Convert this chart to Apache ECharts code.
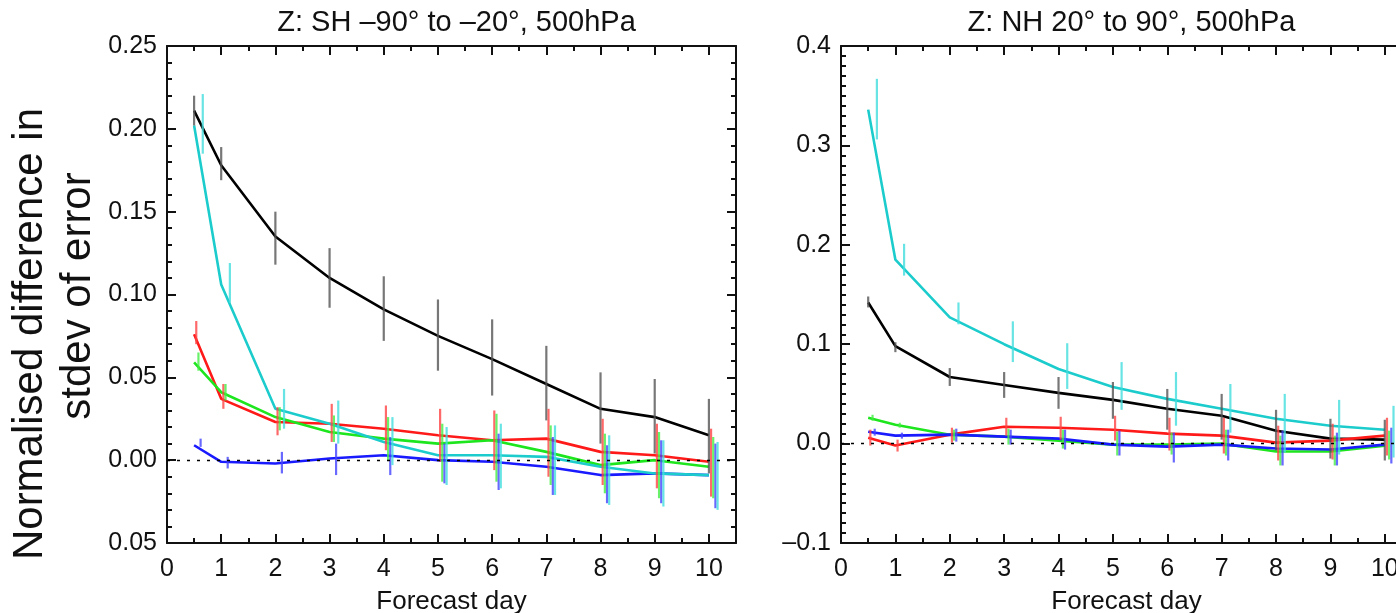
<!DOCTYPE html>
<html><head><meta charset="utf-8">
<script src="https://cdn.jsdelivr.net/npm/echarts@6/dist/echarts.min.js"></script>
<style>html,body{margin:0;padding:0;background:#fff}#c{width:1396px;height:613px}</style>
</head><body><div id="c"></div>
<script>
// ---------- data ----------
const days = [0.5, 1, 2, 3, 4, 5, 6, 7, 8, 9, 10];
const xTickLabels = ['0','1','2','3','4','5','6','7','8','9','10'];
const shYTickLabels = ['0.05','0.00','0.05','0.10','0.15','0.20','0.25'];
const nhYTickLabels = ['\u20130.1','0.0','0.1','0.2','0.3','0.4'];
const titles = ['Z: SH \u201390\u00b0 to \u201320\u00b0, 500hPa', 'Z: NH 20\u00b0 to 90\u00b0, 500hPa'];
const xName = 'Forecast day';
const yNameLines = ['Normalised difference in', 'stdev of error'];

// SH panel
const shBlack   = [0.211,0.178,0.135,0.110,0.091,0.075,0.061,0.046,0.031,0.026,0.015];
const shBlackLo = [0.202,0.169,0.118,0.092,0.072,0.054,0.039,0.024,0.010,0.004,-0.008];
const shBlackHi = [0.220,0.189,0.150,0.128,0.111,0.097,0.085,0.069,0.053,0.049,0.037];
const shCyan    = [0.202,0.106,0.031,0.022,0.011,0.003,0.003,0.002,-0.004,-0.008,-0.009];
const shCyanLo  = [0.185,0.095,0.019,0.010,-0.003,-0.015,-0.017,-0.021,-0.027,-0.028,-0.030];
const shCyanHi  = [0.221,0.119,0.043,0.036,0.026,0.020,0.022,0.021,0.015,0.012,0.011];
const shRed     = [0.076,0.037,0.023,0.022,0.019,0.015,0.012,0.013,0.005,0.003,-0.001];
const shRedLo   = [0.070,0.031,0.015,0.011,0.006,-0.001,-0.006,-0.010,-0.015,-0.017,-0.022];
const shRedHi   = [0.084,0.046,0.032,0.034,0.033,0.031,0.030,0.031,0.025,0.022,0.019];
const shGreen   = [0.059,0.041,0.026,0.017,0.013,0.010,0.012,0.005,-0.003,0.000,-0.004];
const shGreenLo = [0.054,0.036,0.018,0.011,0.000,-0.013,-0.013,-0.015,-0.020,-0.023,-0.023];
const shGreenHi = [0.065,0.046,0.032,0.027,0.026,0.022,0.028,0.021,0.016,0.017,0.014];
const shBlue    = [0.009,-0.001,-0.002,0.001,0.003,0.000,-0.001,-0.004,-0.009,-0.008,-0.009];
const shBlueLo  = [0.008,-0.005,-0.008,-0.009,-0.009,-0.014,-0.018,-0.021,-0.026,-0.026,-0.029];
const shBlueHi  = [0.013,0.002,0.005,0.010,0.014,0.010,0.016,0.014,0.009,0.012,0.010];

// NH panel
const nhBlack   = [0.142,0.098,0.067,0.059,0.051,0.044,0.035,0.028,0.013,0.005,0.004];
const nhBlackLo = [0.137,0.092,0.058,0.046,0.035,0.025,0.014,0.004,-0.007,-0.015,-0.017];
const nhBlackHi = [0.148,0.102,0.076,0.072,0.067,0.062,0.055,0.050,0.034,0.025,0.024];
const nhCyan    = [0.336,0.185,0.127,0.100,0.075,0.057,0.045,0.035,0.025,0.018,0.014];
const nhCyanLo  = [0.306,0.169,0.120,0.082,0.055,0.034,0.018,0.011,-0.009,-0.011,-0.014];
const nhCyanHi  = [0.367,0.201,0.142,0.123,0.101,0.082,0.072,0.060,0.050,0.044,0.038];
const nhRed     = [0.006,-0.002,0.009,0.017,0.016,0.014,0.010,0.008,0.001,0.003,0.008];
const nhRedLo   = [-0.002,-0.008,0.001,0.008,0.004,0.003,-0.007,-0.010,-0.017,-0.016,-0.012];
const nhRedHi   = [0.014,0.004,0.016,0.026,0.027,0.028,0.026,0.026,0.018,0.020,0.026];
const nhGreen   = [0.026,0.019,0.009,0.007,0.003,-0.001,-0.001,0.000,-0.008,-0.008,-0.002];
const nhGreenLo = [0.023,0.016,0.003,-0.001,-0.005,-0.012,-0.011,-0.012,-0.022,-0.022,-0.016];
const nhGreenHi = [0.029,0.021,0.014,0.015,0.014,0.012,0.011,0.014,0.008,0.008,0.013];
const nhBlue    = [0.012,0.008,0.009,0.007,0.005,-0.001,-0.003,-0.001,-0.005,-0.006,-0.001];
const nhBlueLo  = [0.008,0.005,0.002,-0.001,-0.006,-0.012,-0.019,-0.017,-0.022,-0.022,-0.020];
const nhBlueHi  = [0.015,0.011,0.015,0.014,0.014,0.013,0.011,0.014,0.013,0.011,0.016];

// ---------- styling / layout ----------
const FONT = "'Liberation Sans', Arial, Helvetica, sans-serif";
const COLORS = {black:'#000000', cyan:'#1ccccc', red:'#ff1a1a', green:'#1ee61e', blue:'#1a1aff'};
const BAR_COLORS = {black:'#555555', cyan:'#44dddd', red:'#ff4444', green:'#44ee44', blue:'#4444ff'};
const BAR_OFFSET = {black:0, red:0.04, green:0.08, blue:0.12, cyan:0.16};

const panels = [
  {grid:{left:167, top:46, width:569, height:497}, ymin:-0.05, ymax:0.25, yint:0.05, yminor:5, ylabels:shYTickLabels,
   series:{black:[shBlack,shBlackLo,shBlackHi], red:[shRed,shRedLo,shRedHi], green:[shGreen,shGreenLo,shGreenHi], blue:[shBlue,shBlueLo,shBlueHi], cyan:[shCyan,shCyanLo,shCyanHi]}},
  {grid:{left:841, top:46, width:571, height:497}, ymin:-0.1, ymax:0.4, yint:0.1, yminor:10, ylabels:nhYTickLabels,
   series:{black:[nhBlack,nhBlackLo,nhBlackHi], red:[nhRed,nhRedLo,nhRedHi], green:[nhGreen,nhGreenLo,nhGreenHi], blue:[nhBlue,nhBlueLo,nhBlueHi], cyan:[nhCyan,nhCyanLo,nhCyanHi]}}
];

const axisLine = {show:true, onZero:false, lineStyle:{color:'#111', width:2}};
const grids = [], xAxes = [], yAxes = [], series = [], titleArr = [];
panels.forEach((p, pi) => {
  grids.push(Object.assign({outerBoundsMode:'none', containLabel:false, show:false}, p.grid));
  const tick = {show:true, inside:true, length:9, lineStyle:{color:'#111', width:2}};
  const minor = {show:true, splitNumber:2, length:5, lineStyle:{color:'#111', width:2}};
  const xBase = {type:'value', gridIndex:pi, min:0, max:10.5, interval:1, axisLine, splitLine:{show:false},
                 axisTick:tick, minorTick:minor};
  xAxes.push(Object.assign({}, xBase, {position:'bottom',
    name:xName, nameLocation:'middle', nameGap:46, nameTextStyle:{fontFamily:FONT, fontSize:26, color:'#111'},
    axisLabel:{show:true, showMaxLabel:false, margin:14, fontFamily:FONT, fontSize:25, color:'#111',
      formatter:v => { const k = Math.round(v); return Math.abs(v-k) < 1e-6 ? xTickLabels[k] : ''; }}}));
  xAxes.push(Object.assign({}, xBase, {position:'top', axisLabel:{show:false}}));
  const yMinor = {show:true, splitNumber:p.yminor, length:5, lineStyle:{color:'#111', width:2}};
  const yBase = {type:'value', gridIndex:pi, min:p.ymin, max:p.ymax, interval:p.yint, axisLine, splitLine:{show:false},
                 axisTick:tick, minorTick:yMinor};
  yAxes.push(Object.assign({}, yBase, {position:'left',
    axisLabel:{show:true, margin:10, fontFamily:FONT, fontSize:25, color:'#111',
      formatter:v => { const k = Math.round((v - p.ymin)/p.yint); return p.ylabels[k] || ''; }}}));
  yAxes.push(Object.assign({}, yBase, {position:'right', axisLabel:{show:false}}));
  const xi = pi*2, yi = pi*2;
  titleArr.push({text:titles[pi], left:p.grid.left + p.grid.width/2, top:3, textAlign:'center',
    textStyle:{fontFamily:FONT, fontSize:29, fontWeight:'normal', color:'#111'}});
  ['black','red','green','blue','cyan'].forEach(name => {
    const [vals] = p.series[name];
    const s = {type:'line', name:name+pi, xAxisIndex:xi, yAxisIndex:yi, showSymbol:false, symbol:'none',
      data:days.map((d,i)=>[d, vals[i]]), lineStyle:{color:COLORS[name], width:2.6}, z:3, animation:false, silent:true};
    if (name === 'black') {
      s.markLine = {silent:true, symbol:'none', label:{show:false}, animation:false,
        lineStyle:{color:'#000', type:[3,7], width:1.3}, data:[{yAxis:0}]};
    }
    series.push(s);
  });
  ['black','red','green','blue','cyan'].forEach(name => {
    const [, lo, hi] = p.series[name];
    const off = BAR_OFFSET[name], col = BAR_COLORS[name];
    series.push({type:'custom', xAxisIndex:xi, yAxisIndex:yi, silent:true, animation:false, z:4,
      data:days.map((d,i)=>[d, lo[i], hi[i]]), encode:{x:0, y:[1,2]},
      renderItem:(params, api) => {
        const x = api.value(0) + off;
        const a = api.coord([x, api.value(1)]), b = api.coord([x, api.value(2)]);
        return {type:'line', shape:{x1:a[0], y1:a[1], x2:b[0], y2:b[1]}, style:{stroke:col, lineWidth:2.2, opacity:0.8}};
      }});
  });
});

const chart = echarts.init(document.getElementById('c'), null, {renderer:'canvas'});
chart.setOption({
  animation:false,
  backgroundColor:'#fff',
  title:titleArr,
  grid:grids, xAxis:xAxes, yAxis:yAxes, series,
  graphic:[
    {type:'text', x:30, y:334, rotation:Math.PI/2,
     style:{text:yNameLines[0], fill:'#111', font:'42px ' + FONT, align:'center', verticalAlign:'middle'}},
    {type:'text', x:78, y:296, rotation:Math.PI/2,
     style:{text:yNameLines[1], fill:'#111', font:'42px ' + FONT, align:'center', verticalAlign:'middle'}}
  ]
});
</script></body></html>
